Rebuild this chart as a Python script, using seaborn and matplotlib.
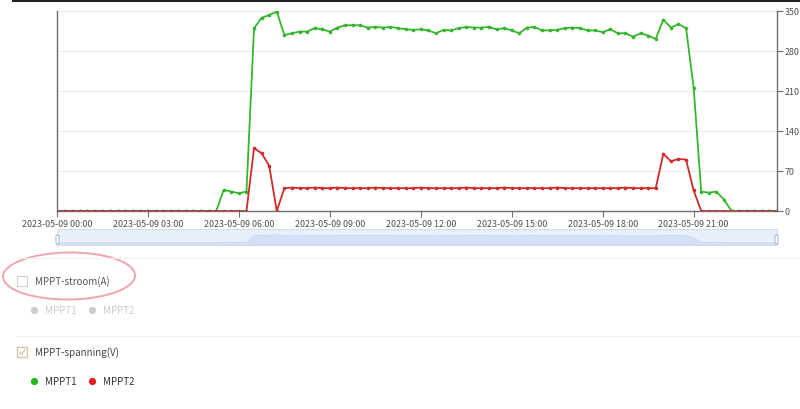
import matplotlib
matplotlib.use("Agg")
import matplotlib.pyplot as plt
import matplotlib.dates as mdates
from matplotlib.patches import Rectangle, Ellipse, FancyBboxPatch
from matplotlib.lines import Line2D
import seaborn as sns
import numpy as np
import pandas as pd

# 15-minute samples over 2023-05-09
times = pd.date_range("2023-05-09 00:00", periods=96, freq="15min")

mppt1 = ([0] * 22
         + [37, 34, 31, 34]
         + [320, 338, 343, 349, 308, 311, 314, 314, 320, 318, 314, 321, 325, 325, 325, 321,
            322, 321, 322, 320, 318, 317, 318, 316, 311, 317, 316, 320, 322, 321, 321, 322,
            318, 320, 316, 311, 321, 322, 316, 316, 317, 320, 321, 320, 316, 316, 313, 318,
            311, 311, 305, 311, 307, 301, 335, 321, 327, 320, 216, 34, 32, 34]
         + [20] + [0] * 7)

mppt2 = ([0] * 26
         + [110, 101, 79, 0]
         + [40]
         + [41, 40, 40, 41, 40, 40, 41, 40, 40, 40, 40, 41, 40, 40, 40, 40, 40, 41, 40, 40,
            40, 40, 40, 41, 40, 40, 40, 40, 41, 40, 40, 40, 40, 40, 40, 41, 40, 40, 40, 40,
            40, 40, 40, 40, 41, 40, 40, 40, 40]
         + [100, 87, 91, 90, 36]
         + [0] * 11)

y_ticks = [0, 70, 140, 210, 280, 350]
series_names = ["MPPT1", "MPPT2"]
series_colors = ["#35b62c", "#d02b2b"]

df = pd.concat([
    pd.DataFrame({"time": times, "value": mppt1, "series": "MPPT1"}),
    pd.DataFrame({"time": times, "value": mppt2, "series": "MPPT2"}),
])

sns.set_style("white")
plt.rcParams["font.family"] = ["Noto Sans CJK SC", "DejaVu Sans"]

W, H = 800, 410
fig = plt.figure(figsize=(W / 100, H / 100), dpi=100)


def fx(px):
    return px / W


def fy(py):
    return 1 - py / H


# main chart
ax = fig.add_axes([fx(57), fy(212), fx(777 - 57), fy(12) - fy(212)])
sns.lineplot(data=df, x="time", y="value", hue="series", hue_order=series_names,
             palette=series_colors, marker="o", markersize=2.6, markeredgewidth=0,
             linewidth=1.3, legend=False, ax=ax)
ax.set_xlim(times[0], times[-1])
ax.set_ylim(0, 350)
ax.set_xlabel("")
ax.set_ylabel("")
ax.yaxis.tick_right()
ax.set_yticks(y_ticks)
ax.grid(axis="y", color="#ececec", linewidth=0.8)
ax.set_axisbelow(True)
ax.spines["top"].set_visible(False)
for s in ["left", "right", "bottom"]:
    ax.spines[s].set_color("#6e6e6e")
    ax.spines[s].set_linewidth(1.0)
ax.xaxis.set_major_locator(mdates.HourLocator(byhour=range(0, 24, 3)))
ax.xaxis.set_major_formatter(mdates.DateFormatter("%Y-%m-%d %H:%M"))
ax.tick_params(axis="x", length=4, width=0.8, color="#6e6e6e", labelsize=6.4,
               labelcolor="#505050", pad=1.5, bottom=True)
ax.tick_params(axis="y", length=4, width=0.8, color="#6e6e6e", labelsize=6.4,
               labelcolor="#505050", pad=1.5, right=True, left=False)

# data zoom slider
sl = fig.add_axes([fx(57), fy(246), fx(777 - 57), fy(230) - fy(246)])
sl.set_facecolor("#e9effb")
sl.fill_between(times, -87, mppt1, color="#d4e0f7", linewidth=0)
sl.plot(times, mppt1, color="#c5d4f0", linewidth=0.6)
sl.set_xlim(times[0], times[-1])
sl.set_ylim(-87, 611)
sl.set_xticks([])
sl.set_yticks([])
for s in sl.spines.values():
    s.set_color("#d3dcee")
    s.set_linewidth(0.8)
for hx in (56, 775):
    fig.patches.append(FancyBboxPatch((fx(hx), fy(245)), fx(3), fy(236) - fy(245),
                                      boxstyle="round,pad=0,rounding_size=0.002",
                                      transform=fig.transFigure, facecolor="white",
                                      edgecolor="#a8b4c8", linewidth=0.7))

# top dark bar
fig.patches.append(Rectangle((fx(12), fy(2.5)), fx(800 - 12), fy(0) - fy(2.5),
                             transform=fig.transFigure, facecolor="#222222",
                             edgecolor="none"))

# separators
fig.add_artist(Line2D([fx(17), fx(800)], [fy(259), fy(259)], color="#efefef", linewidth=0.8))
fig.add_artist(Line2D([fx(17), fx(800)], [fy(336.5), fy(336.5)], color="#efefef", linewidth=0.8))

# legend group 1 (unchecked)
fig.patches.append(Rectangle((fx(17), fy(287)), fx(10), fy(277) - fy(287),
                             transform=fig.transFigure, facecolor="white",
                             edgecolor="#cfcfcf", linewidth=0.8))
fig.text(fx(35), fy(282), "MPPT-stroom(A)", fontsize=7.0, color="#555555", va="center")
for dx, name in zip((34, 92), series_names):
    fig.add_artist(Line2D([fx(dx)], [fy(311)], marker="o", markersize=5.2,
                          color="#cccccc", markeredgewidth=0))
    fig.text(fx(dx + 11), fy(311), name, fontsize=7.0, color="#cccccc", va="center")

# hand-drawn highlight
fig.patches.append(Ellipse((fx(69), fy(277)), fx(132), fy(254) - fy(301),
                           transform=fig.transFigure, facecolor="none",
                           edgecolor="#f0a4ab", linewidth=1.4, angle=2))

# legend group 2 (checked)
fig.patches.append(Rectangle((fx(17), fy(358)), fx(10), fy(348) - fy(358),
                             transform=fig.transFigure, facecolor="white",
                             edgecolor="#d8c39f", linewidth=0.9))
fig.add_artist(Line2D([fx(19.5), fx(21.5), fx(25)], [fy(353), fy(355.5), fy(350.5)],
                      color="#c9b58f", linewidth=0.7))
fig.text(fx(35), fy(353), "MPPT-spanning(V)", fontsize=7.0, color="#444444", va="center")
for dx, name, c in zip((34, 92), series_names, ["#22b922", "#e32020"]):
    fig.add_artist(Line2D([fx(dx)], [fy(382)], marker="o", markersize=5.2,
                          color=c, markeredgewidth=0))
    fig.text(fx(dx + 11), fy(382), name, fontsize=7.0, color="#333333", va="center")

fig.savefig("out.png", dpi=100, facecolor="white")
